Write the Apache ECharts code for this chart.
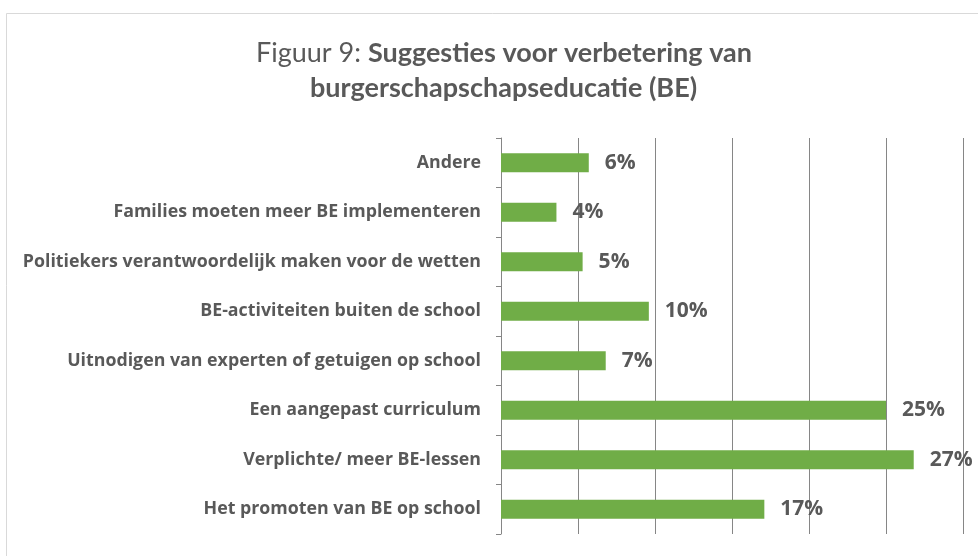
<!DOCTYPE html>
<html style="height: 100%">
<head>
  <meta charset="utf-8">
  <script src="https://cdn.jsdelivr.net/npm/echarts@6/dist/echarts.min.js"></script>
</head>
<body style="height: 100%; margin: 0; background: #fff">
<div id="container" style="width: 978px; height: 556px"></div>
<script type="text/javascript">
// categories top to bottom
var categories = [
    'Andere',
    'Families moeten meer BE implementeren',
    'Politiekers verantwoordelijk maken voor de wetten',
    'BE-activiteiten buiten de school',
    'Uitnodigen van experten of getuigen op school',
    'Een aangepast curriculum',
    'Verplichte/ meer BE-lessen',
    'Het promoten van BE op school'
];
// percentages
var values = [5.7, 3.6, 5.3, 9.6, 6.8, 25.0, 26.8, 17.1];

var textColor = '#595959';
var gridColor = '#868686';
var titleFont = 'Lato';
var labelFont = 'Open Sans';

var myChart = echarts.init(document.getElementById('container'));

var option = {
    backgroundColor: '#fff',
    animation: false,
    textStyle: { fontFamily: labelFont },
    graphic: [{
        type: 'rect',
        shape: { x: 6.5, y: 13.5, width: 1000, height: 600 },
        style: { fill: 'none', stroke: '#d9d9d9', lineWidth: 1 },
        silent: true
    }],
    // two title lines; the box is centred a bit right of the canvas middle
    title: [{
        left: 251,
        top: 35,
        text: '{n|Figuur 9: }{b|Suggesties voor verbetering van}',
        textStyle: {
            rich: {
                n: { fontSize: 27, fontWeight: 'normal', color: textColor, fontFamily: titleFont },
                b: { fontSize: 27, fontWeight: 'bold', color: textColor, fontFamily: titleFont }
            }
        }
    }, {
        left: 305,
        top: 70,
        text: 'burgerschapschapseducatie (BE)',
        textStyle: { fontSize: 27, fontWeight: 'bold', color: textColor, fontFamily: titleFont }
    }],
    grid: { left: 501, right: 15, top: 138, bottom: 22, containLabel: false },
    xAxis: {
        type: 'value',
        min: 0,
        max: 30,
        interval: 5,
        axisLabel: { show: false },
        axisLine: { show: false },
        axisTick: { show: false },
        splitLine: { show: true, lineStyle: { color: gridColor, width: 1 } }
    },
    yAxis: {
        type: 'category',
        data: categories,
        inverse: true,
        axisLine: { show: true, lineStyle: { color: gridColor, width: 1 } },
        axisTick: { show: true, length: 5, lineStyle: { color: gridColor } },
        axisLabel: {
            margin: 20,
            color: textColor,
            fontWeight: 'bold',
            fontSize: 17.8,
            fontFamily: labelFont
        }
    },
    series: [{
        type: 'bar',
        data: values,
        barWidth: 19,
        itemStyle: { color: '#70ad47' },
        label: {
            show: true,
            position: 'right',
            distance: 16,
            color: textColor,
            fontWeight: 'bold',
            fontSize: 21,
            fontFamily: labelFont,
            formatter: function (p) { return Math.round(p.value) + '%'; }
        }
    }]
};

myChart.setOption(option);
</script>
</body>
</html>
